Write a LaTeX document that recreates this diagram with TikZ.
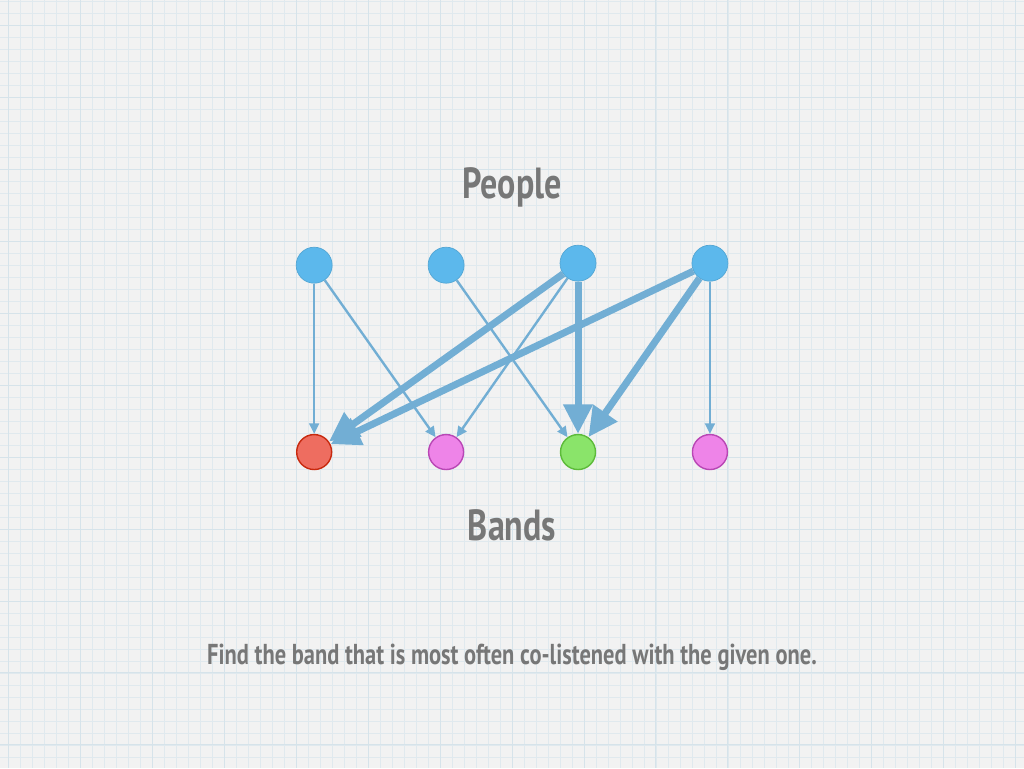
\documentclass[tikz,border=0pt]{standalone}
\usepackage{fontspec}
\usepackage{tikz}
\usetikzlibrary{positioning}
\usetikzlibrary{arrows.meta}
\newfontfamily\handfont[FakeStretch=0.78]{PT Sans}
\definecolor{paper}{HTML}{F2F2F2}
\definecolor{gridminor}{HTML}{E0E9EE}
\definecolor{gridmajor}{HTML}{D6E3EA}
\definecolor{personblue}{HTML}{5CB8EC}
\definecolor{edgeblue}{HTML}{72AED4}
\definecolor{inkgray}{HTML}{777777}
\definecolor{givenred}{HTML}{EE6D60}
\definecolor{givenrim}{HTML}{C8290E}
\definecolor{otherpink}{HTML}{EE84E8}
\definecolor{otherrim}{HTML}{B947B5}
\definecolor{bestgreen}{HTML}{8AE46A}
\definecolor{bestrim}{HTML}{5DBB3A}
\tikzset {
  x=0.025cm, y=-0.025cm,
  node distance={3.3cm},
  % listeners
  person/.style = {draw=personblue!90!black, fill=personblue, circle, minimum size=0.9cm, inner sep=0pt, line width=0.5pt},
  % bands
  band/.style = {circle, minimum size=0.875cm, inner sep=0pt, line width=1pt},
  given/.style = {band, draw=givenrim, fill=givenred},
  other/.style = {band, draw=otherrim, fill=otherpink},
  best/.style = {band, draw=bestrim, fill=bestgreen},
  % edges: single listener and shared listeners
  listen/.style = {edgeblue, line width=1.7pt, -{Triangle[length=7.5pt, width=7pt]}},
  colisten/.style = {edgeblue, line width=5pt, -{Triangle[length=21pt, width=20pt]}},
  title/.style = {text=inkgray, font=\handfont\bfseries\fontsize{31}{36}\selectfont},
}

\begin{document}
\begin{tikzpicture}
        % graph paper
        \fill[paper] (0,0) rectangle (1024,768);
        \foreach \x in {8,20,...,1016} \draw[gridminor, line width=0.4pt] (\x,0) -- (\x,768);
        \foreach \y in {1,13,...,767} \draw[gridminor, line width=0.4pt] (0,\y) -- (1024,\y);
        \foreach \x in {8,80,...,1016} \draw[gridmajor, line width=0.6pt] (\x,0) -- (\x,768);
        \foreach \y in {25,97,...,767} \draw[gridmajor, line width=0.6pt] (0,\y) -- (1024,\y);
        \useasboundingbox (0,0) rectangle (1024,768);

        \node[person] (p1) at (314,265) {};
        \node[person] (p2) [right of=p1] {};
        \node[person] (p3) [right of=p2, yshift=0.05cm] {};
        \node[person] (p4) [right of=p3] {};

        \node[given] (b1) at (314,452) {};
        \node[other] (b2) [right of=b1] {};
        \node[best] (b3) [right of=b2] {};
        \node[other] (b4) [right of=b3] {};

        \node[title] (people) at (512,187) {People};
        \node[title] (bands) at (512,525) {Bands};
        \node[text=inkgray, font=\handfont\bfseries\fontsize{20.5}{24}\selectfont] (caption) at (512,657) {Find the band that is most often co-listened with the given one.};

        \draw [listen] (p1) -- (b1);
        \draw [listen] (p1) -- (b2);
        \draw [listen] (p2) -- (b3);
        \draw [listen] (p3) -- (b2);
        \draw [listen] (p4) -- (b4);
        \draw [colisten] (p3) -- (b1);
        \draw [colisten] (p4) -- (b1);
        \draw [colisten] (p3) -- (b3);
        \draw [colisten] (p4) -- (b3);
      \end{tikzpicture}
\end{document}
